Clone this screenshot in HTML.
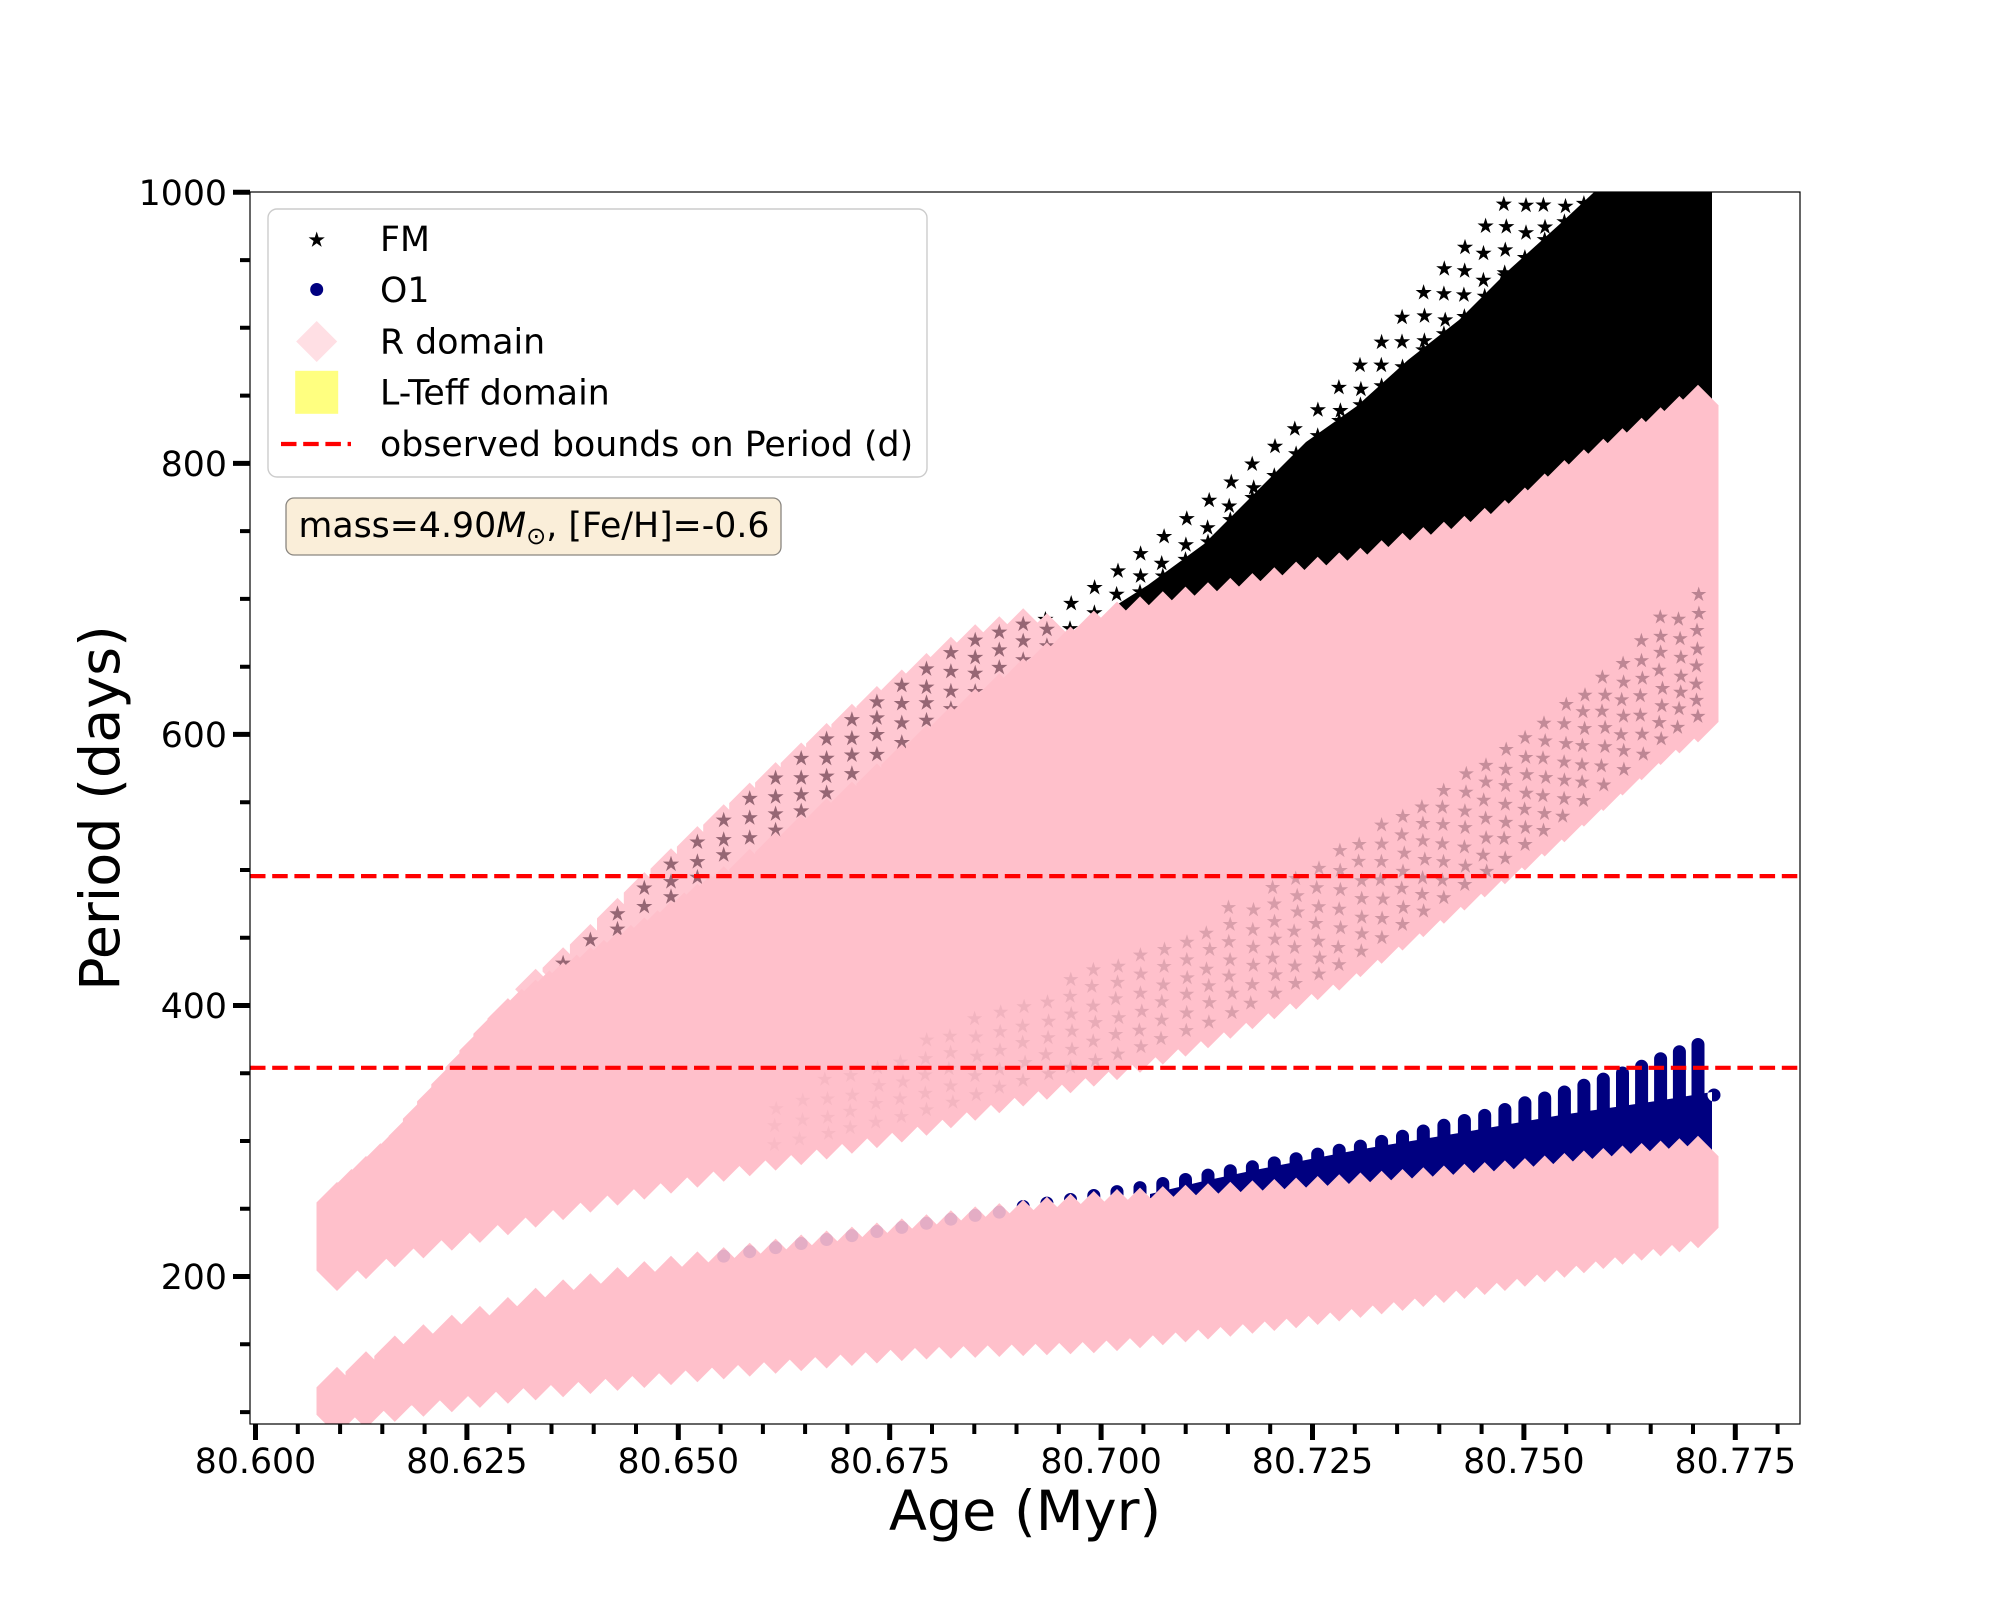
<!DOCTYPE html>
<html><head><meta charset="utf-8">
<style>
html,body{margin:0;padding:0;background:#fff;}
svg{display:block;}
text{font-family:"DejaVu Sans","Liberation Sans",sans-serif;fill:#000;}
</style></head><body>
<svg id="s" width="2000" height="1600" viewBox="0 0 2000 1600" xmlns="http://www.w3.org/2000/svg">
<defs><clipPath id="ax"><rect x="250" y="192" width="1550" height="1232"/></clipPath></defs>
<rect width="2000" height="1600" fill="#fff"/>
<g id="data" clip-path="url(#ax)"></g>
<g clip-path="url(#ax)">
<line x1="250" y1="876.1" x2="1800" y2="876.1" stroke="#ff0000" stroke-width="4.2" stroke-dasharray="15.5 6.7"/>
<line x1="250" y1="1067.8" x2="1800" y2="1067.8" stroke="#ff0000" stroke-width="4.2" stroke-dasharray="15.5 6.7"/>
</g>
<rect x="250" y="192" width="1550" height="1232" fill="none" stroke="#000" stroke-width="1.2"/>
<g id="ticks"></g>

<!-- y tick labels -->
<g font-size="34.72" text-anchor="end">
<text x="227" y="204.9">1000</text>
<text x="227" y="476.0">800</text>
<text x="227" y="747.1">600</text>
<text x="227" y="1018.1">400</text>
<text x="227" y="1289.2">200</text>
</g>
<!-- x tick labels -->
<g font-size="34.72" text-anchor="middle">
<text x="255.5" y="1473">80.600</text>
<text x="466.9" y="1473">80.625</text>
<text x="678.3" y="1473">80.650</text>
<text x="889.7" y="1473">80.675</text>
<text x="1101.1" y="1473">80.700</text>
<text x="1312.5" y="1473">80.725</text>
<text x="1523.9" y="1473">80.750</text>
<text x="1735.3" y="1473">80.775</text>
</g>
<text x="1025" y="1530" font-size="55.6" text-anchor="middle">Age (Myr)</text>
<text transform="translate(119,808) rotate(-90)" font-size="55.6" text-anchor="middle">Period (days)</text>

<!-- legend -->
<rect x="268" y="209" width="659" height="268" rx="9" ry="9" fill="#fff" fill-opacity="0.8" stroke="#cccccc" stroke-width="1.4"/>
<path id="legstar" fill="#000" d=""/>
<circle cx="316.7" cy="289.5" r="6.5" fill="#000080"/>
<path d="M316.7,321L337.2,341.5L316.7,362L296.2,341.5Z" fill="#ffdfe4"/>
<rect x="295.2" y="370.8" width="43" height="43" fill="#ffff80"/>
<line x1="281" y1="444" x2="351" y2="444" stroke="#ff0000" stroke-width="4.2" stroke-dasharray="15.5 6.7"/>
<g font-size="34.72">
<text x="380" y="251">FM</text>
<text x="380" y="302">O1</text>
<text x="380" y="353.5">R domain</text>
<text x="380" y="404.5">L-Teff domain</text>
<text x="380" y="456">observed bounds on Period (d)</text>
</g>

<!-- text box -->
<rect x="286" y="498" width="495" height="57" rx="8" ry="8" fill="#faeed9" stroke="#8a8680" stroke-width="1.3"/>
<text x="298.5" y="537" font-size="34.72">mass=4.90<tspan font-style="italic">M</tspan><tspan dy="7" font-size="24">⊙</tspan><tspan dy="-7">, [Fe/H]=-0.6</tspan></text>
</svg>
<script>
(function(){
var NS='http://www.w3.org/2000/svg';
var g=document.getElementById('data');
function P(parent,d,attrs){var e=document.createElementNS(NS,'path');e.setAttribute('d',d);for(var k in attrs)e.setAttribute(k,attrs[k]);parent.appendChild(e);return e;}
function I(pts,x){if(x<=pts[0][0])return pts[0][1];for(var i=1;i<pts.length;i++){if(x<=pts[i][0]){var x0=pts[i-1][0],y0=pts[i-1][1],x1=pts[i][0],y1=pts[i][1];return y0+(y1-y0)*(x-x0)/(x1-x0);}}return pts[pts.length-1][1];}
function f(v){return v.toFixed(1);}
function hex(x,T,B,r){if(B-T<2*r){var m=(T+B)/2;T=m-r;B=m+r;}return 'M'+f(x)+','+f(T)+'L'+f(x+r)+','+f(T+r)+'L'+f(x+r)+','+f(B-r)+'L'+f(x)+','+f(B)+'L'+f(x-r)+','+f(B-r)+'L'+f(x-r)+','+f(T+r)+'Z';}
function star(cx,cy,R){var s='';for(var k=0;k<10;k++){var a=-Math.PI/2+k*Math.PI/5;var rr=(k%2)?R*0.382:R;s+=(k?'L':'M')+f(cx+rr*Math.cos(a))+','+f(cy+rr*Math.sin(a));}return s+'Z';}
function circ(cx,cy,r){return 'M'+f(cx-r)+','+f(cy)+'a'+r+','+r+' 0 1,0 '+(2*r)+',0a'+r+','+r+' 0 1,0 '+(-2*r)+',0Z';}
var seed=7;function rnd(){seed=(seed*16807)%2147483647;return seed/2147483647;}

document.getElementById('legstar').setAttribute('d',star(316.7,240,8.5));

/* ticks */
var tk=document.getElementById('ticks');
var maj='',mn='';
for(var j=0;j<=36;j++){var x=255.5+42.28*j;if(j%5===0)maj+='M'+f(x)+',1424V1440';else mn+='M'+f(x)+',1424V1434';}
var yv=[100,150,200,250,300,350,400,450,500,550,600,650,700,750,800,850,900,950,1000];
yv.forEach(function(v){var y=192.3+(1000-v)*1.3553;if(v%200===0)maj+='M233,'+f(y)+'H250';else mn+='M240,'+f(y)+'H250';});
P(tk,maj,{stroke:'#000','stroke-width':5,fill:'none'});
P(tk,mn,{stroke:'#000','stroke-width':4,fill:'none'});

/* columns */
var cols=[];var x=337;while(x<1712){cols.push(x);x+=23.3-0.00774*(x-1070);}
var a0=cols[0],b0=cols[cols.length-1];cols=cols.map(function(c){return 337+(c-a0)*(1698-337)/(b0-a0);});

var FMT=[[316,1195],[337,1182],[403,1123],[454,1061],[505,1000],[556,966],[658,910],[760,842],[862,775],[964,696],[1036,650],[1102,605],[1168,590],[1245,575],[1306,559],[1357,549],[1408,531],[1459,518],[1510,498],[1561,462],[1612,434],[1663,406],[1704,381]];
var FMB=[[316,1285],[337,1291],[403,1264],[505,1236],[607,1208],[709,1185],[811,1163],[913,1140],[1000,1113],[1128,1077],[1204,1050],[1255,1028],[1306,1005],[1337,992],[1408,947],[1510,881],[1561,845],[1612,804],[1663,763],[1714,733]];
var O1T=[[316,1378],[352,1359],[403,1331],[454,1314],[505,1298],[556,1281],[658,1258],[760,1241],[862,1225],[964,1208],[1036,1198],[1102,1190],[1306,1177],[1510,1160],[1704,1135]];
var O1B=[[316,1440],[403,1420],[505,1404],[607,1392],[709,1381],[811,1370],[913,1360],[1000,1357],[1102,1353],[1204,1340],[1306,1327],[1408,1310],[1510,1290],[1612,1267],[1704,1247]];
var BT=[[1010,1202],[1036,1198],[1059,1195],[1082,1191],[1106,1187],[1129,1183],[1152,1179],[1174,1175],[1197,1171],[1220,1166],[1243,1162],[1265,1158],[1288,1154],[1310,1149],[1332,1145],[1354,1141],[1377,1136],[1397,1131],[1418,1126],[1439,1120],[1460,1115],[1481,1110],[1502,1104],[1522,1097],[1543,1092],[1563,1086],[1583,1079],[1602,1073],[1621,1067],[1641,1060],[1661,1052],[1680,1045],[1698,1038]];
var BB=[[1150,1194],[1204,1181],[1255,1170],[1357,1150],[1459,1133],[1561,1115],[1663,1100],[1712,1092]];
var BTop=[[1115,606],[1148,585],[1204,544],[1255,493],[1306,442],[1357,406],[1408,360],[1459,320],[1510,269],[1561,223],[1607,180],[1712,180]];
var OT=[[1020,630],[1033,621],[1105,572],[1173,521],[1245,462],[1311,409],[1375,342],[1439,266],[1502,200],[1540,150]];
var HT=[[536,975],[582,938],[658,865],[760,780],[862,702],[964,634],[1030,612],[1060,625]];

/* O1 blue */
var bd='M'+BB.map(function(p){return p.join(',');}).join('L');
for(var xx=1712;xx>=1150;xx-=20){bd+='L'+xx+','+f(I(O1T,xx)+40);}
bd+='L1150,'+f(I(O1T,1150)+40)+'Z';
cols.forEach(function(c){if(c<1000)return;var t=I(BT,c),r=6.5;var bot=I(O1T,c)+35;bd+='M'+f(c-r)+','+f(t+r)+'a'+r+','+r+' 0 0,1 '+(2*r)+',0L'+f(c+r)+','+f(bot)+'L'+f(c-r)+','+f(bot)+'Z';});
bd+=circ(1714,1095,6.5);
P(g,bd,{fill:'#000080'});

/* O1 pink */
var pd='';cols.forEach(function(c){pd+=hex(c,I(O1T,c),I(O1B,c),20.5);});
P(g,pd,{fill:'#ffc0cb'});

/* faint purple dots at top of O1 band */
var ld='';cols.forEach(function(c){if(c<700||c>1010)return;ld+=circ(c,I(O1T,c)+9,6.5);});
P(g,ld,{fill:'#7a64b0','fill-opacity':0.2});

/* black FM region */
var kd='M'+BTop.map(function(p){return p.join(',');}).join('L');
for(var xx2=1712;xx2>=1115;xx2-=20){kd+='L'+xx2+','+f(I(FMT,xx2)+40);}
kd+='L1115,'+f(I(FMT,1115)+40)+'Z';
cols.forEach(function(c){if(c<1118)return;var t=I(BTop,c);kd+=star(c,t+2,8.5);});
cols.forEach(function(c){if(c<1030)return;var top=I(OT,c);var lim=c>=1115?I(BTop,c):I(FMT,c)+8;for(var y=top+8;y<lim;y+=22+rnd()*6)kd+=star(c+(rnd()-0.5)*3,y,8.5);});
P(g,kd,{fill:'#000'});

/* halo */
var hd='',md='';
cols.forEach(function(c){if(c<530||c>1070)return;var ht=I(HT,c),pt=I(FMT,c);if(pt-ht<4)return;hd+=hex(c,ht-6,pt+30,20.5);for(var y=ht+10;y<pt+4;y+=15+rnd()*5)md+=star(c,y,8.5);});
P(g,hd,{fill:'#ffc8d2'});P(g,md,{fill:'#966674'});

/* FM pink */
var fd='';cols.forEach(function(c){fd+=hex(c,I(FMT,c),I(FMB,c),20.5);});
for(var i=0;i<cols.length-1;i++){var c1=cols[i],c2=cols[i+1];if(c1>700)break;var m=(c1+c2)/2;fd+=hex(m,I(FMT,m),I(FMB,m)-25,20.5);}
P(g,fd,{fill:'#ffc0cb'});

/* mauve stars showing through lower FM band */
var HH=[[760,70],[1000,110],[1300,140],[1712,150]];
var AL=[[760,0.05],[1000,0.12],[1200,0.3],[1500,0.5],[1712,0.6]];
cols.forEach(function(c){if(c<760)return;var b=I(FMB,c),H=I(HH,c),al=I(AL,c);var d='';for(var y=b-26;y>b-H;y-=16+rnd()*4)d+=star(c+(rnd()-0.5)*4,y,8);P(g,d,{fill:'#8c5a6a','fill-opacity':al});});
})();
</script>
</body></html>
